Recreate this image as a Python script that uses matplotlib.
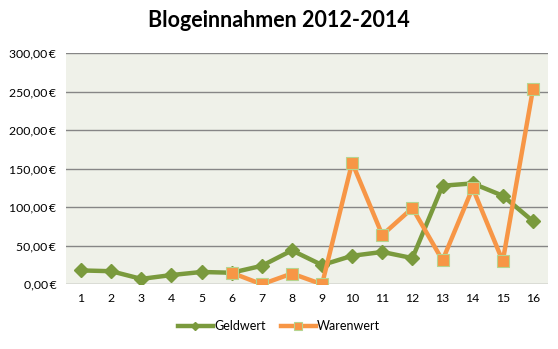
import numpy as np
import matplotlib.pyplot as plt
from matplotlib.ticker import FuncFormatter

# data
periods = list(range(1, 17))
geldwert = [18, 17, 7, 12, 16, 15, 24, 44, 25, 37, 42, 34, 128, 131, 115, 82]
waren_periods = list(range(6, 17))
warenwert = [15, 0, 14, 0, 158, 64, 99, 31, 125, 30, 253]
yticks = [0, 50, 100, 150, 200, 250, 300]

green = '#7A9A3D'
orange = '#F79646'

plt.rcParams['font.family'] = ['Lato', 'DejaVu Sans']

fig = plt.figure(figsize=(5.58, 3.49), dpi=100)
ax = fig.add_axes([0.1183, 0.1854, 0.8637, 0.662])
ax.set_facecolor('#EFF1E9')

ax.plot(periods, geldwert, color=green, lw=3.2, marker='D', ms=7,
        mfc=green, mec=green, label='Geldwert', zorder=3)
ax.plot(waren_periods, warenwert, color=orange, lw=3.2, marker='s', ms=9,
        mfc=orange, mec='#B6D48E', mew=0.8, label='Warenwert', zorder=4)

ax.set_xlim(0.5, 16.5)
ax.set_ylim(0, 300)
ax.set_xticks(periods)
ax.set_yticks(yticks)
ax.yaxis.set_major_formatter(FuncFormatter(lambda v, p: f'{v:.2f}'.replace('.', ',') + '\u2009€'))
ax.grid(axis='y', color='#868686', lw=1)
ax.set_axisbelow(True)
for s in ax.spines.values():
    s.set_visible(False)
ax.tick_params(length=0, labelsize=8.8, colors='black')
ax.tick_params(axis='x', pad=6)
ax.tick_params(axis='y', pad=7)

fig.text(0.5, 0.94, 'Blogeinnahmen 2012-2014', ha='center', va='center',
         fontsize=15.5, fontweight='bold')
fig.legend(loc='center', bbox_to_anchor=(0.5, 0.066), ncol=2, frameon=False,
           fontsize=9, handlelength=2.8, columnspacing=1.2, handletextpad=0.1,
           markerscale=0.6)

fig.savefig('out.png', dpi=100)
